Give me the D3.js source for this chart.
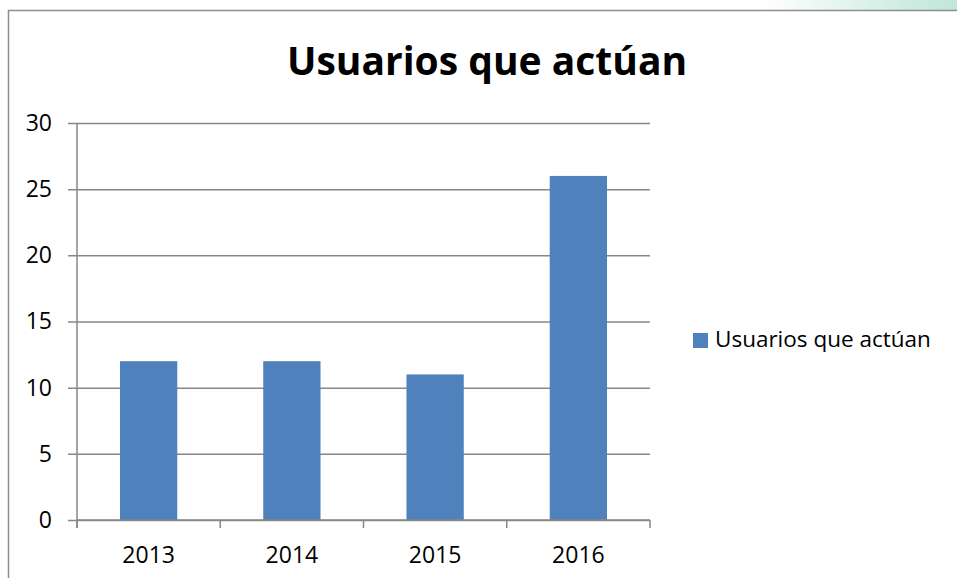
<!DOCTYPE html>
<html>
<head>
<meta charset="utf-8">
<script src="https://cdn.jsdelivr.net/npm/d3@7"></script>
<style>
  body { margin: 0; background: #fff; }
  svg { display: block; }
  text { font-family: 'Open Sans', 'Noto Sans', sans-serif; }
</style>
</head>
<body>
<div id="chart"></div>
<script>
// Usuarios que actúan - column chart

const years = ["2013", "2014", "2015", "2016"];
const usuarios = [12, 12, 11, 26];
const yTicks = [0, 5, 10, 15, 20, 25, 30];
const seriesName = "Usuarios que actúan";

const width = 957;
const height = 578;
const margin = {top: 123, right: 307, bottom: 58, left: 77};

const svg = d3.select("#chart")
    .append("svg")
    .attr("width", width)
    .attr("height", height);

// faint green decoration top right
const defs = svg.append("defs");
const grad = defs.append("linearGradient")
    .attr("id", "deco")
    .attr("x1", "0").attr("x2", "1").attr("y1", "0").attr("y2", "0");
grad.append("stop").attr("offset", "0").attr("stop-color", "#ffffff");
grad.append("stop").attr("offset", "1").attr("stop-color", "#bfe6d6");
svg.append("rect")
    .attr("x", 760).attr("y", 0)
    .attr("width", 197).attr("height", 10)
    .attr("fill", "url(#deco)");

// chart frame (only left and top edges are in view)
svg.append("path")
    .attr("d", `M8.5,${height}V10.5H${width}`)
    .attr("fill", "none")
    .attr("stroke", "#8e8e8e")
    .attr("stroke-width", 1.5);

const innerWidth = width - margin.left - margin.right;
const innerHeight = 397;

const inner = svg.append("g")
    .attr("transform", `translate(${margin.left}, ${margin.top})`);

const xScale = d3.scaleBand()
    .domain(years)
    .range([0, innerWidth])
    .paddingInner(0.6)
    .paddingOuter(0.3);

const yScale = d3.scaleLinear()
    .domain([0, 30])
    .range([innerHeight, 0]);

// gridlines + left ticks
const yAxis = inner.append("g")
    .call(d3.axisLeft(yScale)
        .tickValues(yTicks)
        .tickSize(-innerWidth)
        .tickSizeOuter(0)
        .tickPadding(25));
yAxis.attr("font-family", null);
yAxis.select(".domain").remove();
yAxis.selectAll(".tick line")
    .attr("x1", -9)
    .attr("x2", innerWidth)
    .attr("stroke", "#878787")
    .attr("stroke-width", 1.5);
yAxis.selectAll("text")
    .attr("fill", "#000")
    .style("font-size", "23px");

// bars
inner.selectAll("rect.bar")
    .data(usuarios)
    .join("rect")
    .attr("class", "bar")
    .attr("x", (d, i) => xScale(years[i]))
    .attr("y", d => yScale(d))
    .attr("width", xScale.bandwidth())
    .attr("height", d => innerHeight - yScale(d))
    .attr("fill", "#4f81bd");

// vertical axis line
inner.append("line")
    .attr("x1", 0).attr("x2", 0)
    .attr("y1", 0).attr("y2", innerHeight + 8)
    .attr("stroke", "#878787")
    .attr("stroke-width", 1.5);

// x axis
const xAxis = inner.append("g")
    .attr("transform", `translate(0, ${innerHeight})`)
    .call(d3.axisBottom(xScale).tickSize(0).tickPadding(27));
xAxis.attr("font-family", null);
xAxis.select(".domain")
    .attr("stroke", "#878787")
    .attr("stroke-width", 1.5)
    .attr("d", `M0,0H${innerWidth}`);
xAxis.selectAll("text")
    .attr("fill", "#000")
    .style("font-size", "23px");

// category boundary ticks
const step = xScale.step();
inner.append("g")
    .selectAll("line")
    .data(d3.range(years.length + 1))
    .join("line")
    .attr("x1", i => i * step)
    .attr("x2", i => i * step)
    .attr("y1", innerHeight)
    .attr("y2", innerHeight + 8)
    .attr("stroke", "#878787")
    .attr("stroke-width", 1.5);

// title
svg.append("text")
    .attr("x", 487)
    .attr("y", 75)
    .attr("text-anchor", "middle")
    .style("font-size", "39px")
    .style("font-weight", "bold")
    .text(seriesName);

// legend
const legend = svg.append("g")
    .attr("transform", "translate(693, 333)");
legend.append("rect")
    .attr("width", 15)
    .attr("height", 15)
    .attr("fill", "#4f81bd");
legend.append("text")
    .attr("x", 22)
    .attr("y", 14)
    .style("font-size", "22.5px")
    .text(seriesName);
</script>
</body>
</html>
